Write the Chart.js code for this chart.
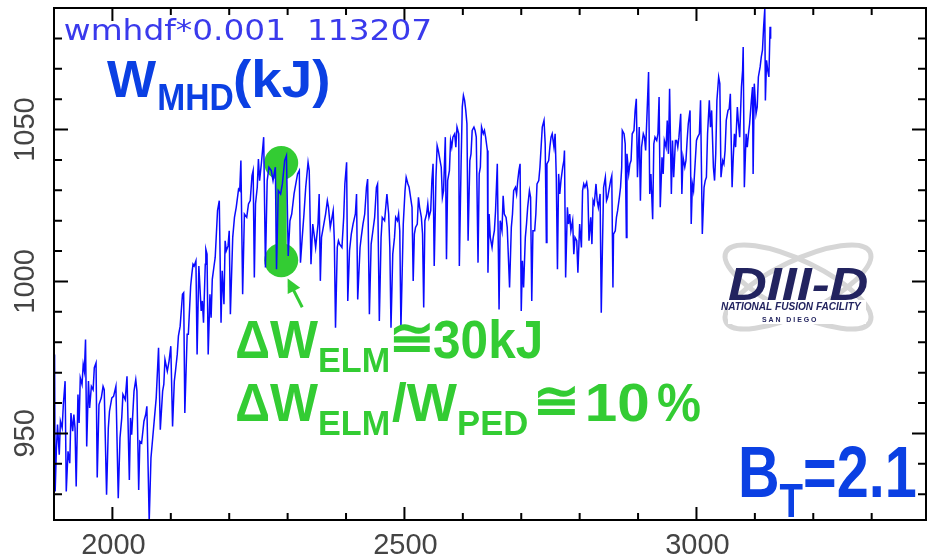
<!DOCTYPE html>
<html>
<head>
<meta charset="utf-8">
<script src="https://cdn.jsdelivr.net/npm/chart.js@4.4.1/dist/chart.umd.min.js"></script>
<style>
html, body { margin: 0; padding: 0; background: #ffffff; }
#wrap { width: 927px; height: 560px; }
</style>
</head>
<body>
<div id="wrap"><canvas id="c" width="927" height="560"></canvas></div>
<script>
'use strict';

// ── Data: shot 113207, W_MHD (kJ) vs time (ms) ─────────────────────────────
var times = [
    1901, 1902, 1904, 1906, 1909, 1911, 1914, 1916, 1919, 1921, 1924, 1927, 1929, 1932, 1934, 1936,
    1938, 1941, 1943, 1945, 1948, 1950, 1952, 1954, 1956, 1959, 1961, 1964, 1967, 1969, 1972, 1974,
    1977, 1981, 1984, 1986, 1990, 1993, 1995, 1999, 2002, 2006, 2010, 2013, 2016, 2018, 2022, 2025,
    2029, 2031, 2033, 2037, 2040, 2042, 2045, 2047, 2050, 2054, 2057, 2059, 2063, 2066, 2069, 2072,
    2075, 2079, 2082, 2086, 2088, 2090, 2094, 2097, 2100, 2103, 2106, 2108, 2111, 2113, 2116, 2120,
    2122, 2124, 2128, 2130, 2134, 2136, 2138, 2140, 2143, 2145, 2148, 2152, 2154, 2156, 2159, 2160,
    2162, 2164, 2167, 2169, 2171, 2174, 2176, 2178, 2180, 2183, 2186, 2188, 2191, 2193, 2195, 2198,
    2200, 2202,
    2206, 2209, 2212, 2216, 2218, 2220, 2223, 2226, 2230, 2233, 2236, 2239, 2241, 2243, 2245, 2248,
    2250, 2252, 2255, 2257, 2259, 2262, 2265, 2268, 2272, 2275, 2279, 2281, 2284, 2288, 2291, 2295,
    2298, 2301, 2304, 2307, 2311, 2314, 2317, 2320, 2322, 2325, 2328, 2331, 2335, 2337, 2340, 2343,
    2346, 2348, 2352, 2354, 2356, 2358, 2362, 2365, 2368, 2370, 2373, 2376, 2378, 2380, 2382, 2385,
    2387, 2389, 2393, 2396, 2398, 2401, 2403, 2406, 2409, 2412, 2416, 2418, 2420, 2424, 2426, 2429,
    2432, 2435, 2437, 2440, 2443, 2446, 2449, 2452, 2454, 2457, 2460, 2462, 2466, 2468, 2470, 2473,
    2475, 2477, 2480, 2483, 2485, 2488, 2490, 2492, 2494, 2498, 2501, 2503, 2506, 2508,
    2513, 2515, 2517, 2519, 2522, 2524, 2526, 2529, 2531, 2533, 2535, 2538, 2540, 2542, 2545, 2547,
    2549, 2551, 2554, 2556, 2558, 2561, 2563, 2565, 2567, 2570, 2572, 2574, 2577, 2579, 2581, 2583,
    2586, 2588, 2590, 2593, 2594, 2597, 2599, 2601, 2603, 2605, 2607, 2609, 2612, 2614, 2616, 2619,
    2621, 2623, 2626, 2628, 2630, 2632, 2635, 2637, 2639, 2642, 2643, 2645, 2647, 2650, 2652, 2654,
    2656, 2659, 2660, 2662, 2664, 2667, 2669, 2671, 2674, 2676, 2678, 2680, 2683, 2685, 2687, 2690,
    2692, 2694, 2696, 2698, 2700, 2702, 2704, 2707, 2709, 2711, 2714, 2716, 2718, 2720, 2723, 2725,
    2727, 2730, 2732, 2734, 2736, 2739, 2741, 2743, 2744, 2747, 2749, 2751, 2753, 2756, 2758, 2760,
    2762, 2764, 2766, 2768, 2771, 2773, 2774, 2776, 2779, 2781, 2783, 2785, 2788, 2790, 2792, 2795,
    2797, 2800, 2803, 2805, 2807, 2809, 2812, 2814, 2816,
    2819, 2821, 2823, 2825, 2828, 2830, 2832, 2835, 2837, 2839, 2841, 2844, 2846, 2848, 2851, 2853,
    2855, 2857, 2858, 2861, 2863, 2865, 2868, 2870, 2872, 2873, 2876, 2878, 2880, 2881, 2884, 2886,
    2888, 2890, 2893, 2895, 2897, 2899, 2902, 2904, 2906, 2909, 2911, 2913, 2916, 2918, 2920, 2922,
    2925, 2927, 2929, 2932, 2934, 2936, 2938, 2941, 2943, 2945, 2948, 2950, 2952, 2954, 2957, 2959,
    2961, 2964, 2966, 2968, 2970, 2973, 2975, 2977, 2980, 2982, 2984, 2986, 2989, 2991, 2993, 2995,
    2998, 3000, 3002, 3005, 3007, 3010, 3013, 3015, 3017, 3019, 3022, 3024, 3026, 3029, 3031, 3033,
    3035, 3038, 3040, 3042, 3045, 3047, 3049, 3051, 3054, 3056, 3058, 3061, 3063, 3065, 3067, 3070,
    3072, 3074, 3077, 3079, 3080, 3082, 3085, 3087, 3089, 3091, 3094, 3096, 3097, 3099, 3102, 3104,
    3106, 3109, 3111, 3113, 3115, 3117, 3118, 3120, 3122, 3124, 3126, 3127
];

var wmhd = [
    976.0, 930.9, 944.1, 952.9, 943.0, 954.0, 951.8, 959.5, 967.2, 930.9, 944.1, 940.2, 956.7, 950.7, 956.2, 951.8,
    932.5, 962.8, 953.4, 968.3, 966.1, 972.7, 970.5, 980.9, 945.7, 967.2, 958.4, 965.5, 964.4, 971.6, 973.2, 935.5,
    959.5, 961.7, 965.5, 964.4, 929.8, 951.8, 957.3, 961.7, 962.2, 965.5, 928.7, 948.5, 955.1, 962.8, 961.1, 968.8,
    934.7, 955.1, 949.6, 963.9, 967.7, 963.9, 931.4, 947.4, 946.8, 954.0, 956.2, 958.9, 921.0, 941.9, 948.5, 955.1,
    961.7, 978.2, 951.2, 963.9, 966.1, 974.3, 970.5, 973.8, 978.7, 952.3, 967.2, 970.5, 976.0, 982.0, 985.3, 995.8,
    996.3, 956.7, 982.6, 982.6, 998.5, 1002.4, 1005.7, 1005.1, 1006.8, 976.0, 1005.1, 990.3, 993.6, 986.4, 1005.7, 1010.6,
    1009.0, 976.0, 995.8, 988.1, 1000.7, 1005.1, 1007.9, 1015.6, 1023.3, 1026.6, 986.4, 1003.5, 992.5, 1013.4, 1010.1, 1011.7,
    1016.7, 989.2,
    1014.5, 1021.1, 1024.4, 1030.4, 1029.9, 1039.8, 995.8, 1022.2, 1021.1, 1025.5, 1026.6, 1034.8, 1036.5, 1001.3, 1025.5, 1031.0,
    1040.3, 1033.2, 1038.7, 1043.1, 1047.5, 1004.6, 1033.2, 1037.6, 1036.5, 1033.2, 1037.6, 1004.0, 1029.9, 1028.8, 1032.1, 1039.8,
    1041.4, 1008.4, 1020.0, 1022.2, 1028.8, 1032.1, 1035.4, 1036.5, 1006.2, 1014.5, 1022.2, 1031.0, 1039.2, 1036.5, 1005.7, 1018.9,
    1014.5, 1011.2, 1018.9, 1028.8, 1000.2, 1014.5, 1018.9, 1022.2, 1026.6, 1024.4, 1017.8, 1021.1, 1023.3, 1013.4, 984.8, 1011.2,
    1013.4, 1012.3, 1011.2, 1021.1, 1032.1, 1039.2, 993.6, 1010.1, 1015.6, 1018.9, 1022.2, 1028.8, 994.1, 1011.2, 1014.5, 1018.9,
    1022.2, 1031.0, 1033.7, 989.2, 1012.3, 1016.7, 1021.1, 1031.0, 1032.1, 987.0, 1014.5, 1021.1, 1020.0, 1024.4, 1028.8, 1022.2,
    1011.2, 984.8, 1009.0, 1014.5, 1021.1, 1020.0, 1022.2, 1016.7, 984.8, 1018.9, 1029.9, 1034.3, 1032.1, 1031.0,
    1024.4, 1000.2, 1015.6, 1017.8, 1018.9, 1027.7, 1024.4, 1021.1, 1015.6, 991.4, 1020.0, 1022.2, 1025.5, 1021.1, 1023.3, 1033.2,
    1038.7, 1005.1, 1034.3, 1044.7, 1043.1, 1039.8, 1037.6, 1027.7, 1029.9, 1047.5, 1007.3, 1033.2, 1036.5, 1046.4, 1044.2, 1047.5,
    1048.6, 1044.2, 1050.8, 1048.6, 1005.1, 1038.7, 1057.4, 1061.2, 1059.6, 1056.3, 1051.9, 1013.4, 1039.8, 1042.0, 1049.7, 1050.8,
    1049.7, 1047.5, 1006.2, 1035.4, 1037.6, 1050.8, 1048.6, 1049.7, 1047.5, 1043.1, 1002.9, 1022.2, 1014.5, 1011.2, 1014.5, 1016.7,
    1023.3, 1038.7, 1038.7, 990.8, 1020.0, 1016.7, 1028.2, 1022.2, 1021.1, 1017.8, 1007.9, 998.0, 1017.8, 1022.2, 1029.9, 1031.0,
    1028.8, 1033.2, 1036.5, 1038.7, 990.3, 1006.8, 998.0, 1014.5, 1018.9, 1024.4, 1029.9, 1027.7, 993.6, 1016.7, 1016.7, 1022.2,
    1032.1, 1033.2, 1037.6, 1044.2, 1050.8, 1053.0, 1045.3, 1012.8, 1038.7, 1039.8, 1044.2, 1047.5, 1048.6, 1044.2, 1048.6, 1034.3,
    1004.0, 1035.4, 1028.8, 1033.2, 1037.6, 1039.8, 1043.1, 1001.3, 1024.4, 1018.9, 1022.2, 1016.7, 1020.0, 1009.0, 1014.5, 1013.4,
    1002.9, 1018.9, 1011.2, 1029.9, 1032.1, 1031.0, 1032.6, 1029.9, 1013.4,
    1021.1, 1012.3, 1026.6, 1025.5, 1032.1, 1026.6, 1024.4, 1028.8, 989.7, 1011.2, 1031.0, 1034.3, 1026.6, 1027.7, 1031.0, 1033.2,
    1034.8, 998.0, 1015.6, 1016.7, 1021.1, 1023.3, 1027.7, 1031.0, 1037.6, 1049.7, 1048.6, 1045.3, 1014.5, 1042.0, 1035.4, 1038.7,
    1039.8, 1048.6, 1049.7, 1056.3, 1060.1, 1034.3, 1050.8, 1026.6, 1044.2, 1048.6, 1047.5, 1043.1, 1058.5, 1068.9, 1028.8, 1035.4,
    1020.5, 1045.3, 1047.5, 1046.4, 1048.6, 1060.7, 1024.4, 1040.9, 1035.4, 1046.4, 1044.2, 1053.0, 1042.0, 1063.4, 1028.8, 1046.4,
    1034.3, 1046.4, 1046.4, 1044.2, 1047.5, 1055.2, 1028.8, 1040.9, 1037.6, 1039.8, 1046.4, 1051.9, 1056.3, 1018.9, 1032.1, 1029.9,
    1039.8, 1046.4, 1047.5, 1048.6, 1059.6, 1015.6, 1031.0, 1033.2, 1034.3, 1048.6, 1059.6, 1050.8, 1056.3, 1037.6, 1033.2, 1042.0,
    1059.6, 1067.3, 1065.1, 1034.3, 1039.8, 1038.7, 1043.1, 1053.0, 1056.3, 1056.8, 1061.8, 1031.0, 1040.9, 1048.6, 1044.2, 1057.4,
    1051.9, 1047.5, 1064.0, 1069.5, 1077.2, 1031.0, 1048.6, 1044.2, 1048.6, 1051.9, 1059.6, 1064.0, 1035.4, 1065.1, 1055.2, 1057.4,
    1067.3, 1070.6, 1073.9, 1076.1, 1083.8, 1089.8, 1059.6, 1072.8, 1069.5, 1067.3, 1083.8, 1079.9
];

// ── Axis ticks and labels ────────────────────────────────────────────────────
var xMajor = [2000, 2500, 3000];
var xMinor = [1900, 2100, 2200, 2300, 2400, 2600, 2700, 2800, 2900, 3100, 3200, 3300];
var xLabels = ['2000', '2500', '3000'];
var yMajor = [950, 1000, 1050];
var yMinor = [930, 940, 960, 970, 980, 990, 1010, 1020, 1030, 1040, 1060, 1070, 1080];
var yLabels = ['950', '1000', '1050'];

// ── ELM marker (one crash picked out on the trace) ───────────────────────────
var elmTime   = 2289;
var elmTop    = 1039;
var elmBottom = 1007;
var arrowTip  = [2300, 1001];
var arrowTail = [2325, 991.5];

var COL = {
    trace: '#0a0aff',
    blue:  '#0b40e3',
    green: '#33cc33',
    navy:  '#22235f',
    axis:  '#000000',
    label: '#444444'
};

// ── Helper: draw text so that its ink box spans x0..x1 ───────────────────────
function fitText(ctx, str, x0, x1, base, font) {
    ctx.font = font;
    ctx.textAlign = 'left';
    ctx.textBaseline = 'alphabetic';
    var m = ctx.measureText(str);
    var ink = m.actualBoundingBoxLeft + m.actualBoundingBoxRight;
    var s = (x1 - x0) / ink;
    ctx.save();
    ctx.translate(x0 + m.actualBoundingBoxLeft * s, base);
    ctx.scale(s, 1);
    ctx.fillText(str, 0, 0);
    ctx.restore();
}

// ── Helper: a run of text pieces (sub/superscripts), squeezed by h ──────────
function drawRun(ctx, x0, pieces, h) {
    ctx.save();
    ctx.textAlign = 'left';
    ctx.textBaseline = 'alphabetic';
    ctx.translate(x0, 0);
    ctx.scale(h, 1);
    var x = 0;
    for (var i = 0; i < pieces.length; i++) {
        ctx.font = pieces[i].font;
        ctx.fillText(pieces[i].text, x, pieces[i].base);
        x += ctx.measureText(pieces[i].text).width;
    }
    ctx.restore();
}

// ── Plugin: green ELM marker under the trace ─────────────────────────────────
var elmMarker = {
    id: 'elmMarker',
    beforeDatasetsDraw: function (chart) {
        var ctx = chart.ctx, xs = chart.scales.x, ys = chart.scales.y;
        var x = xs.getPixelForValue(elmTime);
        var yT = ys.getPixelForValue(elmTop);
        var yB = ys.getPixelForValue(elmBottom);
        ctx.save();
        ctx.fillStyle = COL.green;
        ctx.fillRect(x - 5.5, yT, 11, yB - yT);
        ctx.beginPath(); ctx.arc(x, yT, 17, 0, Math.PI * 2); ctx.fill();
        ctx.beginPath(); ctx.arc(x, yB, 17, 0, Math.PI * 2); ctx.fill();
        ctx.restore();
    }
};

// ── Plugin: frame, inward ticks, labels, annotations ─────────────────────────
var frame = {
    id: 'frame',
    afterDraw: function (chart) {
        var ctx = chart.ctx, a = chart.chartArea;
        var xs = chart.scales.x, ys = chart.scales.y;
        var i, p;
        ctx.save();

        // axes box
        ctx.strokeStyle = COL.axis;
        ctx.lineWidth = 2;
        ctx.strokeRect(a.left, a.top, a.right - a.left, a.bottom - a.top);

        // ticks pointing inward on all four sides
        ctx.beginPath();
        function xt(v, len) {
            p = xs.getPixelForValue(v);
            ctx.moveTo(p, a.bottom); ctx.lineTo(p, a.bottom - len);
            ctx.moveTo(p, a.top);    ctx.lineTo(p, a.top + len);
        }
        function yt(v, len) {
            p = ys.getPixelForValue(v);
            ctx.moveTo(a.left, p);  ctx.lineTo(a.left + len, p);
            ctx.moveTo(a.right, p); ctx.lineTo(a.right - len, p);
        }
        for (i = 0; i < xMajor.length; i++) { xt(xMajor[i], 13); }
        for (i = 0; i < xMinor.length; i++) { xt(xMinor[i], 7); }
        for (i = 0; i < yMajor.length; i++) { yt(yMajor[i], 14); }
        for (i = 0; i < yMinor.length; i++) { yt(yMinor[i], 8); }
        ctx.stroke();

        // tick labels
        ctx.fillStyle = COL.label;
        ctx.font = '29px "Liberation Sans", Arial, sans-serif';
        ctx.textAlign = 'center';
        ctx.textBaseline = 'alphabetic';
        for (i = 0; i < xMajor.length; i++) {
            ctx.fillText(xLabels[i], xs.getPixelForValue(xMajor[i]) + 1, 554);
        }
        for (i = 0; i < yMajor.length; i++) {
            ctx.save();
            ctx.translate(34, ys.getPixelForValue(yMajor[i]));
            ctx.rotate(-Math.PI / 2);
            ctx.fillText(yLabels[i], 0, 0);
            ctx.restore();
        }

        // shot id, top left
        ctx.fillStyle = '#3a3aec';
        fitText(ctx, 'wmhdf*0.001  113207', 65, 430, 40, '28px "DejaVu Sans", sans-serif');

        // W_MHD(kJ)
        var bold = function (px) { return 'bold ' + px + 'px "Liberation Sans", Arial, sans-serif'; };
        ctx.fillStyle = COL.blue;
        fitText(ctx, 'W', 107, 157, 97, bold(52));
        fitText(ctx, 'MHD', 159, 233, 110, bold(37));
        fitText(ctx, '(kJ)', 235, 328, 97, bold(52));

        // B_T = 2.1
        drawRun(ctx, 738, [
            { text: 'B',    font: bold(72), base: 497 },
            { text: 'T',    font: bold(48), base: 517 },
            { text: '=2.1', font: bold(72), base: 497 }
        ], 0.8);

        // green ELM text
        ctx.fillStyle = COL.green;
        fitText(ctx, '\u0394', 237, 268, 358, bold(53));
        fitText(ctx, 'W', 270, 318, 358, bold(53));
        fitText(ctx, 'ELM', 320, 388, 372, bold(35));
        fitText(ctx, '\u2245', 393, 430, 356, bold(53));
        fitText(ctx, '30kJ', 434, 540, 358, bold(53));

        fitText(ctx, '\u0394', 237, 268, 421, bold(53));
        fitText(ctx, 'W', 270, 318, 421, bold(53));
        fitText(ctx, 'ELM', 320, 388, 435, bold(35));
        fitText(ctx, '/W', 392, 457, 421, bold(53));
        fitText(ctx, 'PED', 459, 527, 435, bold(35));
        fitText(ctx, '\u2245', 537, 575, 419, bold(53));
        fitText(ctx, '10', 588, 648, 421, bold(53));
        fitText(ctx, '%', 658, 700, 421, bold(53));

        // arrow pointing at the lower circle
        var tx = xs.getPixelForValue(arrowTip[0]), ty = ys.getPixelForValue(arrowTip[1]);
        var sx = xs.getPixelForValue(arrowTail[0]), sy = ys.getPixelForValue(arrowTail[1]);
        var ang = Math.atan2(ty - sy, tx - sx);
        ctx.strokeStyle = COL.green;
        ctx.lineWidth = 3;
        ctx.beginPath();
        ctx.moveTo(sx, sy);
        ctx.lineTo(tx - 10 * Math.cos(ang), ty - 10 * Math.sin(ang));
        ctx.stroke();
        ctx.beginPath();
        ctx.moveTo(tx, ty);
        ctx.lineTo(tx - 14 * Math.cos(ang) + 7 * Math.sin(ang), ty - 14 * Math.sin(ang) - 7 * Math.cos(ang));
        ctx.lineTo(tx - 14 * Math.cos(ang) - 7 * Math.sin(ang), ty - 14 * Math.sin(ang) + 7 * Math.cos(ang));
        ctx.closePath();
        ctx.fill();

        // DIII-D logo
        ctx.strokeStyle = '#d6d6d6';
        ctx.lineWidth = 5;
        ctx.beginPath();
        ctx.ellipse(798, 287, 80, 26, 0.45, 0, Math.PI * 2);
        ctx.stroke();
        ctx.beginPath();
        ctx.ellipse(798, 287, 80, 26, -0.45, 0, Math.PI * 2);
        ctx.stroke();
        ctx.fillStyle = '#ffffff';
        ctx.fillRect(728, 300, 138, 24);
        ctx.fillStyle = COL.navy;
        fitText(ctx, 'DIII-D', 728, 867, 300, 'italic bold 46px "Liberation Sans", Arial, sans-serif');
        fitText(ctx, 'NATIONAL FUSION FACILITY', 721, 862, 310, 'italic bold 10px "Liberation Sans", Arial, sans-serif');
        fitText(ctx, 'S A N   D I E G O', 762, 817, 322, 'bold 7px "Liberation Sans", Arial, sans-serif');

        ctx.restore();
    }
};

// ── Build points for the linear x scale ──────────────────────────────────────
var points = [];
for (var k = 0; k < times.length; k++) {
    points.push({ x: times[k], y: wmhd[k] });
}

new Chart(document.getElementById('c').getContext('2d'), {
    type: 'line',
    data: {
        datasets: [{
            label: 'wmhdf',
            data: points,
            borderColor: COL.trace,
            borderWidth: 1.5,
            pointRadius: 0,
            tension: 0,
            fill: false
        }]
    },
    options: {
        responsive: false,
        animation: false,
        devicePixelRatio: 1,
        layout: { padding: { left: 54, right: 1, top: 8, bottom: 40 } },
        plugins: { legend: { display: false }, tooltip: { enabled: false } },
        scales: {
            x: { type: 'linear', min: 1900, max: 3393, display: false },
            y: { type: 'linear', min: 921.5, max: 1090, display: false }
        }
    },
    plugins: [elmMarker, frame]
});
</script>
</body>
</html>
